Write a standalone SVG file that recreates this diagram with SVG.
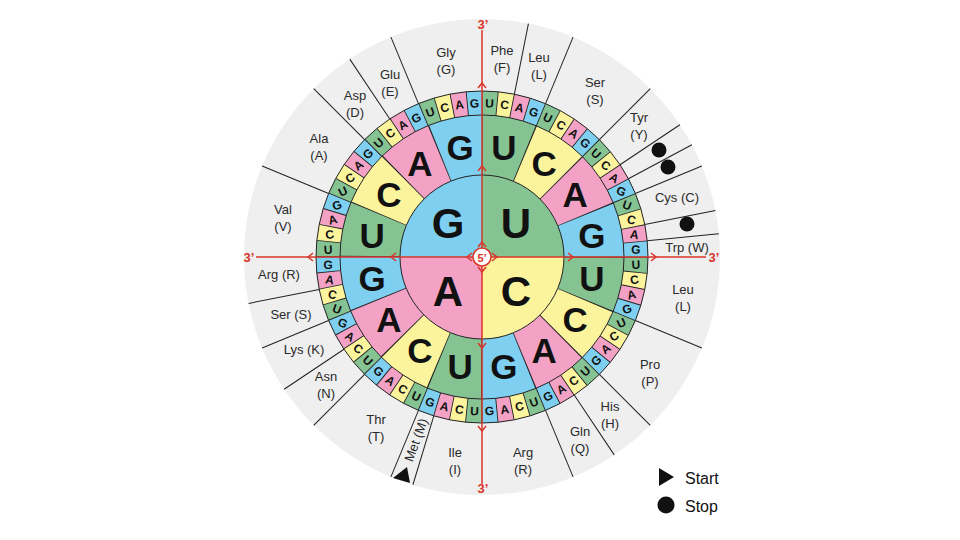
<svg xmlns="http://www.w3.org/2000/svg" width="960" height="540" viewBox="0 0 960 540">
<style>
.aa{font-family:"Liberation Sans",Arial,sans-serif;font-size:13px;fill:#2a2a2a;text-anchor:middle}
.s{font-family:"Liberation Sans",Arial,sans-serif;font-size:12px;font-weight:bold;fill:#111;text-anchor:middle}
.m{font-family:"Liberation Sans",Arial,sans-serif;font-size:35px;font-weight:bold;fill:#111;text-anchor:middle}
.b{font-family:"Liberation Sans",Arial,sans-serif;font-size:42px;font-weight:bold;fill:#111;text-anchor:middle}
.red{font-family:"Liberation Sans",Arial,sans-serif;font-size:13px;font-weight:bold;fill:#d9362a;text-anchor:middle}
.leg{font-family:"Liberation Sans",Arial,sans-serif;font-size:16px;fill:#111}
.sep{stroke:#222;stroke-width:1}
.ch{fill:none;stroke:#d9362a;stroke-width:1.5}
</style>
<defs>
<path id="chev" d="M-5,-4 L0,0 L-5,4"/>
</defs>
<rect width="960" height="540" fill="#ffffff"/>
<circle id="outer" cx="482" cy="257" r="238" fill="#efefef"/>

<g id="ring2" transform="rotate(-90 482 257)" fill="none">
<circle cx="482" cy="257" r="112" stroke="#86c393" stroke-width="60" stroke-dasharray="43.9823 131.9469" stroke-dashoffset="0"/>
<circle cx="482" cy="257" r="112" stroke="#fbf49c" stroke-width="60" stroke-dasharray="43.9823 131.9469" stroke-dashoffset="-43.9823"/>
<circle cx="482" cy="257" r="112" stroke="#f3a2c5" stroke-width="60" stroke-dasharray="43.9823 131.9469" stroke-dashoffset="-87.9646"/>
<circle cx="482" cy="257" r="112" stroke="#7ecff0" stroke-width="60" stroke-dasharray="43.9823 131.9469" stroke-dashoffset="-131.9469"/>
<circle cx="482" cy="257" r="112" stroke="#222" stroke-width="60" stroke-dasharray="1 42.9823" stroke-dashoffset="0.5"/>
</g>
<g id="ring3" transform="rotate(-90 482 257)" fill="none">
<circle cx="482" cy="257" r="154" stroke="#86c393" stroke-width="24" stroke-dasharray="15.11891 45.35673" stroke-dashoffset="0"/>
<circle cx="482" cy="257" r="154" stroke="#fbf49c" stroke-width="24" stroke-dasharray="15.11891 45.35673" stroke-dashoffset="-15.11891"/>
<circle cx="482" cy="257" r="154" stroke="#f3a2c5" stroke-width="24" stroke-dasharray="15.11891 45.35673" stroke-dashoffset="-30.23782"/>
<circle cx="482" cy="257" r="154" stroke="#7ecff0" stroke-width="24" stroke-dasharray="15.11891 45.35673" stroke-dashoffset="-45.35673"/>
<circle cx="482" cy="257" r="154" stroke="#222" stroke-width="24" stroke-dasharray="0.9 14.21891" stroke-dashoffset="0.45"/>
</g>
<g id="inner">
<path d="M482 257 L482 175 A82 82 0 0 0 400 257 Z" fill="#7ecff0"/>
<path d="M482 257 L482 175 A82 82 0 0 1 564 257 Z" fill="#86c393"/>
<path d="M482 257 L564 257 A82 82 0 0 1 482 339 Z" fill="#fbf49c"/>
<path d="M482 257 L482 339 A82 82 0 0 1 400 257 Z" fill="#f3a2c5"/>
</g>
<g id="borders" fill="none" stroke="#222" stroke-width="1">
<circle cx="482" cy="257" r="82"/>
<circle cx="482" cy="257" r="142"/>
<circle cx="482" cy="257" r="166"/>
</g>

<g id="inner-letters" class="b">
<text x="448" y="238">G</text>
<text x="516" y="238">U</text>
<text x="516" y="306">C</text>
<text x="448" y="306">A</text>
</g>
<g id="ring2-letters" class="m">
<text x="503.9" y="159.7">U</text>
<text x="544.2" y="176.4">C</text>
<text x="575.1" y="207.3">A</text>
<text x="591.9" y="247.7">G</text>
<text x="591.9" y="291.4">U</text>
<text x="575.1" y="331.7">C</text>
<text x="544.2" y="362.6">A</text>
<text x="503.9" y="379.4">G</text>
<text x="460.2" y="379.4">U</text>
<text x="419.8" y="362.6">C</text>
<text x="388.9" y="331.7">A</text>
<text x="372.2" y="291.4">G</text>
<text x="372.2" y="247.7">U</text>
<text x="388.9" y="207.3">C</text>
<text x="419.8" y="176.4">A</text>
<text x="460.2" y="159.7">G</text>
</g>
<g id="ring3-letters" class="s">
<text y="4.3" transform="translate(482 257) rotate(2.8125) translate(0 -154)">U</text>
<text y="4.3" transform="translate(482 257) rotate(8.4375) translate(0 -154)">C</text>
<text y="4.3" transform="translate(482 257) rotate(14.0625) translate(0 -154)">A</text>
<text y="4.3" transform="translate(482 257) rotate(19.6875) translate(0 -154)">G</text>
<text y="4.3" transform="translate(482 257) rotate(25.3125) translate(0 -154)">U</text>
<text y="4.3" transform="translate(482 257) rotate(30.9375) translate(0 -154)">C</text>
<text y="4.3" transform="translate(482 257) rotate(36.5625) translate(0 -154)">A</text>
<text y="4.3" transform="translate(482 257) rotate(42.1875) translate(0 -154)">G</text>
<text y="4.3" transform="translate(482 257) rotate(47.8125) translate(0 -154) rotate(-5.625)">U</text>
<text y="4.3" transform="translate(482 257) rotate(53.4375) translate(0 -154) rotate(-16.875)">C</text>
<text y="4.3" transform="translate(482 257) rotate(59.0625) translate(0 -154) rotate(-28.125)">A</text>
<text y="4.3" transform="translate(482 257) rotate(64.6875) translate(0 -154) rotate(-39.375)">G</text>
<text y="4.3" transform="translate(482 257) rotate(70.3125) translate(0 -154) rotate(-50.625)">U</text>
<text y="4.3" transform="translate(482 257) rotate(75.9375) translate(0 -154) rotate(-61.875)">C</text>
<text y="4.3" transform="translate(482 257) rotate(81.5625) translate(0 -154) rotate(-73.125)">A</text>
<text y="4.3" transform="translate(482 257) rotate(87.1875) translate(0 -154) rotate(-84.375)">G</text>
<text y="4.3" transform="translate(482 257) rotate(92.8125) translate(0 -154) rotate(-95.625)">U</text>
<text y="4.3" transform="translate(482 257) rotate(98.4375) translate(0 -154) rotate(-106.875)">C</text>
<text y="4.3" transform="translate(482 257) rotate(104.0625) translate(0 -154) rotate(-118.125)">A</text>
<text y="4.3" transform="translate(482 257) rotate(109.6875) translate(0 -154) rotate(-129.375)">G</text>
<text y="4.3" transform="translate(482 257) rotate(115.3125) translate(0 -154) rotate(-140.625)">U</text>
<text y="4.3" transform="translate(482 257) rotate(120.9375) translate(0 -154) rotate(-151.875)">C</text>
<text y="4.3" transform="translate(482 257) rotate(126.5625) translate(0 -154) rotate(-163.125)">A</text>
<text y="4.3" transform="translate(482 257) rotate(132.1875) translate(0 -154) rotate(-174.375)">G</text>
<text y="4.3" transform="translate(482 257) rotate(137.8125) translate(0 -154) rotate(-180)">U</text>
<text y="4.3" transform="translate(482 257) rotate(143.4375) translate(0 -154) rotate(-180)">C</text>
<text y="4.3" transform="translate(482 257) rotate(149.0625) translate(0 -154) rotate(-180)">A</text>
<text y="4.3" transform="translate(482 257) rotate(154.6875) translate(0 -154) rotate(-180)">G</text>
<text y="4.3" transform="translate(482 257) rotate(160.3125) translate(0 -154) rotate(-180)">U</text>
<text y="4.3" transform="translate(482 257) rotate(165.9375) translate(0 -154) rotate(-180)">C</text>
<text y="4.3" transform="translate(482 257) rotate(171.5625) translate(0 -154) rotate(-180)">A</text>
<text y="4.3" transform="translate(482 257) rotate(177.1875) translate(0 -154) rotate(-180)">G</text>
<text y="4.3" transform="translate(482 257) rotate(182.8125) translate(0 -154) rotate(-180)">U</text>
<text y="4.3" transform="translate(482 257) rotate(188.4375) translate(0 -154) rotate(-180)">C</text>
<text y="4.3" transform="translate(482 257) rotate(194.0625) translate(0 -154) rotate(-180)">A</text>
<text y="4.3" transform="translate(482 257) rotate(199.6875) translate(0 -154) rotate(-180)">G</text>
<text y="4.3" transform="translate(482 257) rotate(205.3125) translate(0 -154) rotate(-180)">U</text>
<text y="4.3" transform="translate(482 257) rotate(210.9375) translate(0 -154) rotate(-180)">C</text>
<text y="4.3" transform="translate(482 257) rotate(216.5625) translate(0 -154) rotate(-180)">A</text>
<text y="4.3" transform="translate(482 257) rotate(222.1875) translate(0 -154) rotate(-180)">G</text>
<text y="4.3" transform="translate(482 257) rotate(227.8125) translate(0 -154) rotate(-185.625)">U</text>
<text y="4.3" transform="translate(482 257) rotate(233.4375) translate(0 -154) rotate(-196.875)">C</text>
<text y="4.3" transform="translate(482 257) rotate(239.0625) translate(0 -154) rotate(-208.125)">A</text>
<text y="4.3" transform="translate(482 257) rotate(244.6875) translate(0 -154) rotate(-219.375)">G</text>
<text y="4.3" transform="translate(482 257) rotate(250.3125) translate(0 -154) rotate(-230.625)">U</text>
<text y="4.3" transform="translate(482 257) rotate(255.9375) translate(0 -154) rotate(-241.875)">C</text>
<text y="4.3" transform="translate(482 257) rotate(261.5625) translate(0 -154) rotate(-253.125)">A</text>
<text y="4.3" transform="translate(482 257) rotate(267.1875) translate(0 -154) rotate(-264.375)">G</text>
<text y="4.3" transform="translate(482 257) rotate(272.8125) translate(0 -154) rotate(-275.625)">U</text>
<text y="4.3" transform="translate(482 257) rotate(278.4375) translate(0 -154) rotate(-286.875)">C</text>
<text y="4.3" transform="translate(482 257) rotate(284.0625) translate(0 -154) rotate(-298.125)">A</text>
<text y="4.3" transform="translate(482 257) rotate(289.6875) translate(0 -154) rotate(-309.375)">G</text>
<text y="4.3" transform="translate(482 257) rotate(295.3125) translate(0 -154) rotate(-320.625)">U</text>
<text y="4.3" transform="translate(482 257) rotate(300.9375) translate(0 -154) rotate(-331.875)">C</text>
<text y="4.3" transform="translate(482 257) rotate(306.5625) translate(0 -154) rotate(-343.125)">A</text>
<text y="4.3" transform="translate(482 257) rotate(312.1875) translate(0 -154) rotate(-354.375)">G</text>
<text y="4.3" transform="translate(482 257) rotate(317.8125) translate(0 -154)">U</text>
<text y="4.3" transform="translate(482 257) rotate(323.4375) translate(0 -154)">C</text>
<text y="4.3" transform="translate(482 257) rotate(329.0625) translate(0 -154)">A</text>
<text y="4.3" transform="translate(482 257) rotate(334.6875) translate(0 -154)">G</text>
<text y="4.3" transform="translate(482 257) rotate(340.3125) translate(0 -154)">U</text>
<text y="4.3" transform="translate(482 257) rotate(345.9375) translate(0 -154)">C</text>
<text y="4.3" transform="translate(482 257) rotate(351.5625) translate(0 -154)">A</text>
<text y="4.3" transform="translate(482 257) rotate(357.1875) translate(0 -154)">G</text>
</g>

<g id="connectors" class="sep">
<line x1="482" y1="91" x2="482" y2="19" transform="rotate(11.25 482 257)"/>
<line x1="482" y1="91" x2="482" y2="19" transform="rotate(22.5 482 257)"/>
<line x1="482" y1="91" x2="482" y2="19" transform="rotate(45 482 257)"/>
<line x1="482" y1="91" x2="482" y2="19" transform="rotate(56.25 482 257)"/>
<line x1="482" y1="91" x2="482" y2="19" transform="rotate(61.875 482 257)"/>
<line x1="482" y1="91" x2="482" y2="19" transform="rotate(67.5 482 257)"/>
<line x1="482" y1="91" x2="482" y2="19" transform="rotate(78.75 482 257)"/>
<line x1="482" y1="91" x2="482" y2="19" transform="rotate(84.375 482 257)"/>
<line x1="482" y1="91" x2="482" y2="19" transform="rotate(112.5 482 257)"/>
<line x1="482" y1="91" x2="482" y2="19" transform="rotate(135 482 257)"/>
<line x1="482" y1="91" x2="482" y2="19" transform="rotate(146.25 482 257)"/>
<line x1="482" y1="91" x2="482" y2="19" transform="rotate(157.5 482 257)"/>
<line x1="482" y1="91" x2="482" y2="19" transform="rotate(196.875 482 257)"/>
<line x1="482" y1="91" x2="482" y2="19" transform="rotate(202.5 482 257)"/>
<line x1="482" y1="91" x2="482" y2="19" transform="rotate(225 482 257)"/>
<line x1="482" y1="91" x2="482" y2="19" transform="rotate(236.25 482 257)"/>
<line x1="482" y1="91" x2="482" y2="19" transform="rotate(247.5 482 257)"/>
<line x1="482" y1="91" x2="482" y2="19" transform="rotate(258.75 482 257)"/>
<line x1="482" y1="91" x2="482" y2="19" transform="rotate(292.5 482 257)"/>
<line x1="482" y1="91" x2="482" y2="19" transform="rotate(315 482 257)"/>
<line x1="482" y1="91" x2="482" y2="19" transform="rotate(326.25 482 257)"/>
<line x1="482" y1="91" x2="482" y2="19" transform="rotate(337.5 482 257)"/>
</g>

<g id="axes">
<line x1="482" y1="30" x2="482" y2="484" stroke="#d9362a" stroke-width="1.5"/>
<line x1="256" y1="257" x2="706" y2="257" stroke="#d9362a" stroke-width="1.5"/>
<g class="ch">
<use href="#chev" transform="translate(573 257)"/>
<use href="#chev" transform="translate(656 257)"/>
<use href="#chev" transform="translate(391 257) rotate(180)"/>
<use href="#chev" transform="translate(308 257) rotate(180)"/>
<use href="#chev" transform="translate(482 166) rotate(-90)"/>
<use href="#chev" transform="translate(482 83) rotate(-90)"/>
<use href="#chev" transform="translate(482 348) rotate(90)"/>
<use href="#chev" transform="translate(482 431) rotate(90)"/>
<use href="#chev" transform="translate(497 257)"/>
<use href="#chev" transform="translate(467 257) rotate(180)"/>
<use href="#chev" transform="translate(482 242) rotate(-90)"/>
<use href="#chev" transform="translate(482 272) rotate(90)"/>
</g>
<circle cx="482" cy="257" r="9" fill="#fff" stroke="#d9362a" stroke-width="1.5"/>
<text class="red" x="482" y="261.5" style="font-size:11px">5’</text>
<text class="red" x="483" y="29">3’</text>
<text class="red" x="483" y="493">3’</text>
<text class="red" x="249" y="262">3’</text>
<text class="red" x="714" y="262">3’</text>
</g>

<g id="labels" class="aa">
<text x="446" y="57">Gly</text><text x="446" y="74">(G)</text>
<text x="502" y="55">Phe</text><text x="502" y="72">(F)</text>
<text x="539" y="62">Leu</text><text x="539" y="79">(L)</text>
<text x="595" y="87">Ser</text><text x="595" y="104">(S)</text>
<text x="639" y="122">Tyr</text><text x="639" y="139">(Y)</text>
<text x="677" y="202">Cys (C)</text>
<text x="687" y="252">Trp (W)</text>
<text x="683" y="294">Leu</text><text x="683" y="311">(L)</text>
<text x="650" y="369">Pro</text><text x="650" y="386">(P)</text>
<text x="610" y="411">His</text><text x="610" y="428">(H)</text>
<text x="580" y="436">Gln</text><text x="580" y="453">(Q)</text>
<text x="523" y="457">Arg</text><text x="523" y="474">(R)</text>
<text x="455" y="457">Ile</text><text x="455" y="474">(I)</text>
<text x="376" y="424">Thr</text><text x="376" y="441">(T)</text>
<text x="326" y="381">Asn</text><text x="326" y="398">(N)</text>
<text x="304" y="354">Lys (K)</text>
<text x="291" y="319">Ser (S)</text>
<text x="279" y="279">Arg (R)</text>
<text x="283" y="214">Val</text><text x="283" y="231">(V)</text>
<text x="319" y="143">Ala</text><text x="319" y="160">(A)</text>
<text x="355" y="100">Asp</text><text x="355" y="117">(D)</text>
<text x="390" y="79">Glu</text><text x="390" y="96">(E)</text>
<text transform="translate(416 440) rotate(-70)" y="4.5">Met (M)</text>
</g>

<g id="markers" fill="#111">
<circle cx="659" cy="150" r="7.5"/>
<circle cx="668" cy="167" r="7.5"/>
<circle cx="687" cy="224" r="7.5"/>
<polygon points="393,478 407,467 410,483"/>
</g>

<g id="legend">
<polygon points="659,468 674,477 659,486" fill="#111"/>
<text class="leg" x="685" y="484">Start</text>
<circle cx="666" cy="505" r="8.5" fill="#111"/>
<text class="leg" x="685" y="512">Stop</text>
</g>
</svg>
